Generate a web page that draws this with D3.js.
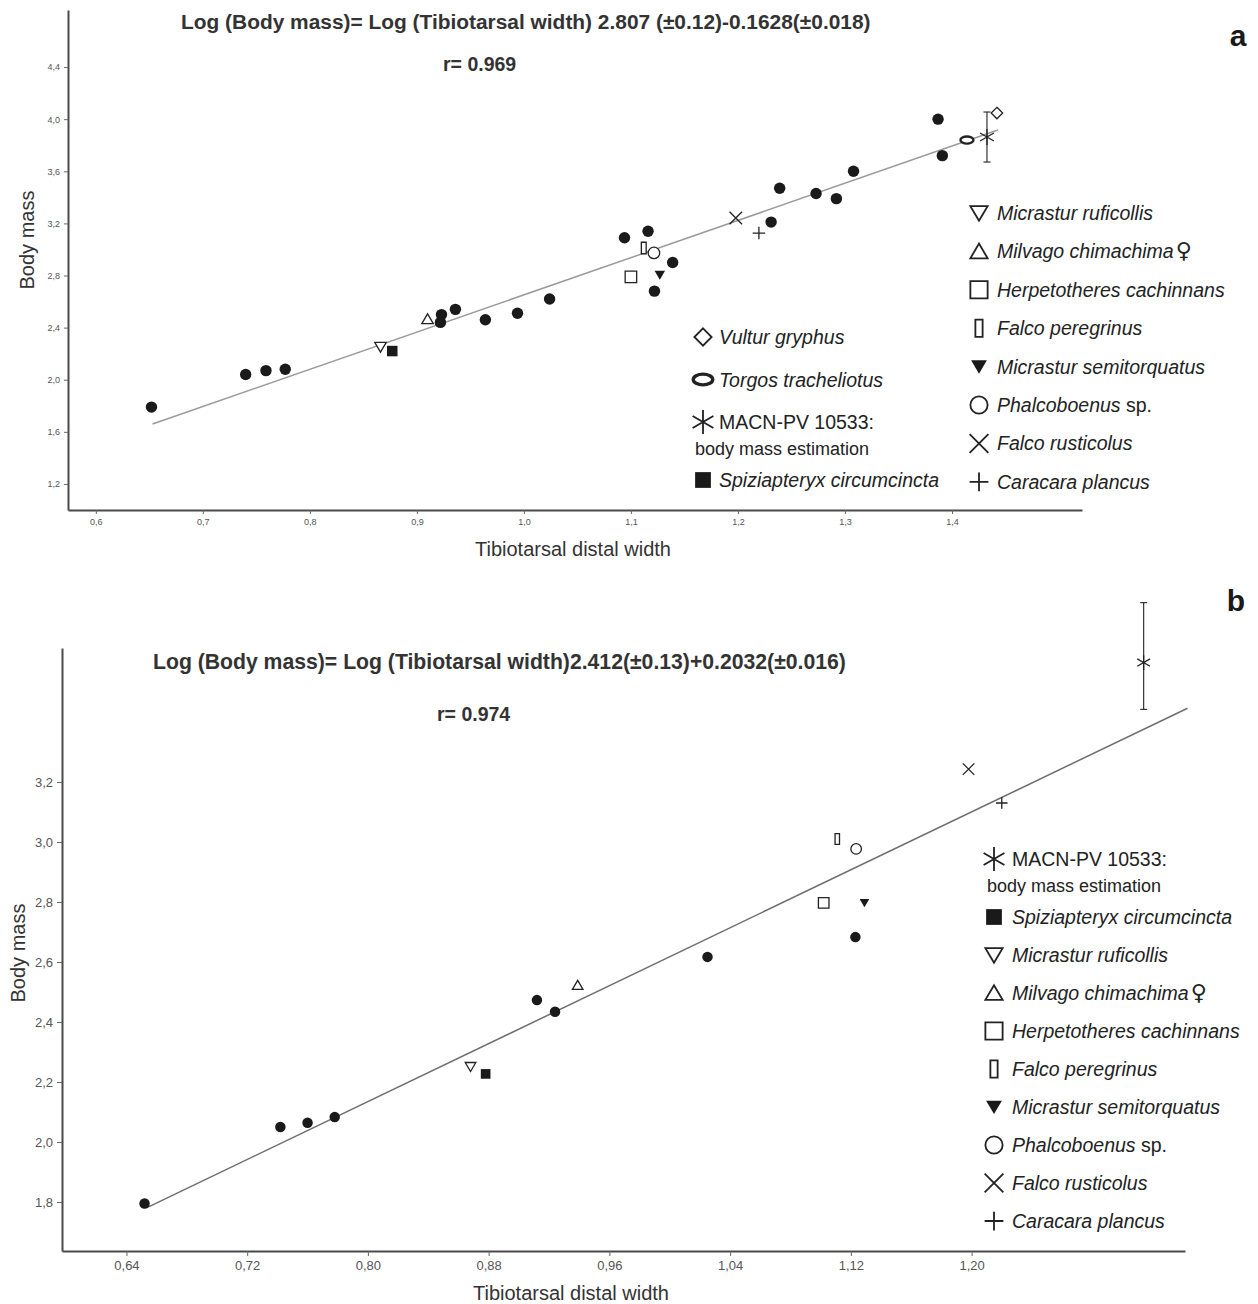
<!DOCTYPE html>
<html>
<head>
<meta charset="utf-8">
<script src="https://cdn.jsdelivr.net/npm/d3@7"></script>
<style>
  body { margin: 0; background: #fff; }
  svg text { font-family: "Liberation Sans", Arial, sans-serif; }
</style>
</head>
<body>
<svg id="chart"></svg>
<script>
// ---- panel a : all specimens ----
const aTickX = [0.6, 0.7, 0.8, 0.9, 1.0, 1.1, 1.2, 1.3, 1.4];
const aTickY = [1.2, 1.6, 2.0, 2.4, 2.8, 3.2, 3.6, 4.0, 4.4];
const aExtentX = [0.574, 1.5215];
const aExtentY = [1.0, 4.838];
const aDotsX = [0.652, 0.740, 0.759, 0.777, 0.922, 0.923, 0.936, 0.964, 0.994, 1.024, 1.094, 1.116, 1.139, 1.122, 1.231, 1.239, 1.273, 1.292, 1.308, 1.387, 1.391];
const aDotsY = [1.79, 2.04, 2.07, 2.08, 2.44, 2.50, 2.54, 2.46, 2.51, 2.62, 3.09, 3.14, 2.90, 2.68, 3.21, 3.47, 3.43, 3.39, 3.60, 4.00, 3.72];
const aTaxa = ["ruficollis", "spiziapteryx", "milvago", "herpetotheres", "peregrinus", "phalcoboenus", "semitorquatus", "rusticolus", "caracara", "torgos", "macn", "vultur"];
const aTaxaX = [0.866, 0.877, 0.910, 1.100, 1.112, 1.1215, 1.127, 1.198, 1.2196, 1.414, 1.4327, 1.442];
const aTaxaY = [2.251, 2.220, 2.466, 2.789, 3.011, 2.973, 2.804, 3.241, 3.126, 3.840, 3.863, 4.047];
const aMacnRange = [3.671, 4.055];
const aFitX = [0.653, 1.443];
const aFitY = [1.660, 3.917];
const aEquation = "Log (Body mass)= Log (Tibiotarsal width) 2.807 (\u00b10.12)-0.1628(\u00b10.018)";
const aR = "r= 0.969";
const aLegendLeft = ["vultur", "torgos", "macn", "spiziapteryx"];
const aLegendRight = ["ruficollis", "milvago", "herpetotheres", "peregrinus", "semitorquatus", "phalcoboenus", "rusticolus", "caracara"];

// ---- panel b : reduced sample ----
const bTickX = [0.64, 0.72, 0.80, 0.88, 0.96, 1.04, 1.12, 1.20];
const bTickY = [1.8, 2.0, 2.2, 2.4, 2.6, 2.8, 3.0, 3.2];
const bExtentX = [0.5973, 1.3414];
const bExtentY = [1.6367, 3.6467];
const bDotsX = [0.652, 0.742, 0.760, 0.778, 0.912, 0.924, 1.025, 1.123];
const bDotsY = [1.795, 2.050, 2.064, 2.083, 2.473, 2.434, 2.617, 2.683];
const bTaxa = ["ruficollis", "spiziapteryx", "milvago", "herpetotheres", "peregrinus", "phalcoboenus", "semitorquatus", "rusticolus", "caracara", "macn"];
const bTaxaX = [0.868, 0.878, 0.939, 1.102, 1.111, 1.1235, 1.129, 1.198, 1.220, 1.314];
const bTaxaY = [2.251, 2.227, 2.523, 2.797, 3.010, 2.977, 2.797, 3.243, 3.130, 3.598];
const bMacnRange = [3.442, 3.798];
const bFitX = [0.6543, 1.3431];
const bFitY = [1.783, 3.446];
const bEquation = "Log (Body mass)= Log (Tibiotarsal width)2.412(\u00b10.13)+0.2032(\u00b10.016)";
const bR = "r= 0.974";
const bLegend = ["macn", "spiziapteryx", "ruficollis", "milvago", "herpetotheres", "peregrinus", "semitorquatus", "phalcoboenus", "rusticolus", "caracara"];

// legend text: [text, italic]
const taxonLabel = {
  vultur: [["Vultur gryphus", true]],
  torgos: [["Torgos tracheliotus", true]],
  macn: [["MACN-PV 10533:", false]],
  spiziapteryx: [["Spiziapteryx circumcincta", true]],
  ruficollis: [["Micrastur ruficollis", true]],
  milvago: [["Milvago chimachima", true], ["\u2640", false]],
  herpetotheres: [["Herpetotheres cachinnans", true]],
  peregrinus: [["Falco peregrinus", true]],
  semitorquatus: [["Micrastur semitorquatus", true]],
  phalcoboenus: [["Phalcoboenus", true], [" sp.", false]],
  rusticolus: [["Falco rusticolus", true]],
  caracara: [["Caracara plancus", true]]
};

const symbolOf = {
  vultur: "diamond", torgos: "ellipse", macn: "asterisk", spiziapteryx: "squareFilled",
  ruficollis: "triDown", milvago: "triUp", herpetotheres: "square", peregrinus: "narrow",
  semitorquatus: "triDownFilled", phalcoboenus: "circle", rusticolus: "cross", caracara: "plus"
};

const W = 1258, H = 1304;
const ink = "#1a1a1a";

const svg = d3.select("#chart").attr("width", W).attr("height", H);
svg.append("rect").attr("width", W).attr("height", H).attr("fill", "#fff");

function symbolPath(kind, s) {
  const h = s / 2;
  const p = d3.path();
  switch (kind) {
    case "dot":
    case "circle":
      p.moveTo(h, 0); p.arc(0, 0, h, 0, 2 * Math.PI); p.closePath(); break;
    case "square":
    case "squareFilled":
      p.rect(-h, -h, s, s); break;
    case "narrow":
      p.rect(-h * 0.42, -h, s * 0.42, s); break;
    case "triDown":
    case "triDownFilled":
      p.moveTo(-h, -h * 0.8); p.lineTo(h, -h * 0.8); p.lineTo(0, h * 0.9); p.closePath(); break;
    case "triUp":
      p.moveTo(-h, h * 0.8); p.lineTo(h, h * 0.8); p.lineTo(0, -h * 0.9); p.closePath(); break;
    case "diamond":
      p.moveTo(0, -h); p.lineTo(h, 0); p.lineTo(0, h); p.lineTo(-h, 0); p.closePath(); break;
    case "ellipse":
      return `M${-h},0 a${h},${h * 0.55} 0 1,0 ${s},0 a${h},${h * 0.55} 0 1,0 ${-s},0 Z`;
    case "cross":
      p.moveTo(-h, -h); p.lineTo(h, h); p.moveTo(-h, h); p.lineTo(h, -h); break;
    case "plus":
      p.moveTo(-h, 0); p.lineTo(h, 0); p.moveTo(0, -h); p.lineTo(0, h); break;
    case "asterisk":
      p.moveTo(0, -h); p.lineTo(0, h);
      [30, 150].forEach(a => {
        const dx = h * Math.cos(a * Math.PI / 180), dy = h * Math.sin(a * Math.PI / 180);
        p.moveTo(-dx, -dy); p.lineTo(dx, dy);
      });
      break;
  }
  return p.toString();
}

function styleSymbol(sel, kind, scale) {
  const filled = kind === "dot" || kind === "squareFilled" || kind === "triDownFilled";
  const lineOnly = kind === "cross" || kind === "plus" || kind === "asterisk";
  sel.attr("fill", filled ? ink : (lineOnly ? "none" : "#fff"))
     .attr("stroke", filled ? "none" : "#222")
     .attr("stroke-width", (kind === "ellipse" ? 2.4 : 1.3) * scale);
}

const markerSize = {
  dot: 11.4, circle: 11.5, square: 11.5, squareFilled: 10.5, narrow: 11.5, triDown: 11.5, triUp: 11.5,
  triDownFilled: 10.5, diamond: 11.5, ellipse: 13, cross: 12.5, plus: 12.5, asterisk: 16
};

const commaFmt = digits => d => d.toFixed(digits).replace(".", ",");

function drawPanel(cfg) {
  const g = svg.append("g");
  const x = d3.scaleLinear().domain(cfg.extentX).range([cfg.left, cfg.right]);
  const y = d3.scaleLinear().domain(cfg.extentY).range([cfg.bottom, cfg.top]);

  const xAxis = g.append("g")
    .attr("transform", "translate(0," + cfg.bottom + ")")
    .call(d3.axisBottom(x).tickValues(cfg.tickX).tickFormat(commaFmt(cfg.xDigits))
      .tickSize(cfg.tickLen).tickSizeOuter(0).tickPadding(cfg.tickPad));
  const yAxis = g.append("g")
    .attr("transform", "translate(" + cfg.left + ",0)")
    .call(d3.axisLeft(y).tickValues(cfg.tickY).tickFormat(commaFmt(1))
      .tickSize(cfg.tickLen).tickSizeOuter(0).tickPadding(cfg.tickPad - 1));
  [xAxis, yAxis].forEach(ax => {
    ax.select(".domain").attr("stroke", "#4a4a4a").attr("stroke-width", 2);
    ax.selectAll(".tick line").attr("stroke", "#666").attr("stroke-width", 1);
    ax.selectAll(".tick text").attr("fill", "#555")
      .style("font-size", cfg.tickFont + "px")
      .style("font-family", "'Liberation Sans', Arial, sans-serif");
  });

  // axis titles
  g.append("text")
    .attr("transform", "translate(" + cfg.yTitleX + "," + cfg.yTitleY + ") rotate(-90)")
    .attr("text-anchor", "middle").attr("fill", "#333").style("font-size", "20px")
    .text("Body mass");
  g.append("text")
    .attr("x", cfg.xTitleX).attr("y", cfg.xTitleY)
    .attr("text-anchor", "middle").attr("fill", "#333").style("font-size", "20px")
    .text("Tibiotarsal distal width");

  // equation and r
  g.append("text").attr("x", cfg.eqX).attr("y", cfg.eqY)
    .attr("fill", "#333").style("font-size", cfg.eqFont + "px").style("font-weight", "bold")
    .text(cfg.equation);
  g.append("text").attr("x", cfg.rX).attr("y", cfg.rY)
    .attr("fill", "#333").style("font-size", "19.5px").style("font-weight", "bold")
    .text(cfg.r);
  g.append("text").attr("x", cfg.letterX).attr("y", cfg.letterY)
    .attr("text-anchor", "middle").attr("fill", ink)
    .style("font-size", "30px").style("font-weight", "bold")
    .text(cfg.letter);

  // regression line
  const fit = cfg.fitX.map((v, i) => [v, cfg.fitY[i]]);
  g.append("path")
    .attr("d", d3.line().x(d => x(d[0])).y(d => y(d[1]))(fit))
    .attr("fill", "none").attr("stroke", cfg.fitColor).attr("stroke-width", 1.5);

  // error bar for the fossil estimate
  const mi = cfg.taxa.indexOf("macn");
  const ex = x(cfg.taxaX[mi]);
  const eb = g.append("g").attr("stroke", "#333").attr("stroke-width", 1.2);
  eb.append("line").attr("x1", ex).attr("x2", ex)
    .attr("y1", y(cfg.macnRange[0])).attr("y2", y(cfg.macnRange[1]));
  cfg.macnRange.forEach(v => {
    eb.append("line").attr("x1", ex - 3.5).attr("x2", ex + 3.5)
      .attr("y1", y(v)).attr("y2", y(v));
  });

  // filled circles: other falconiforms
  const dots = cfg.dotsX.map((v, i) => [v, cfg.dotsY[i]]);
  g.append("g").selectAll("path").data(dots).enter().append("path")
    .attr("transform", d => "translate(" + x(d[0]) + "," + y(d[1]) + ")")
    .attr("d", symbolPath("dot", markerSize.dot * cfg.markScale))
    .call(sel => styleSymbol(sel, "dot", 1));

  // highlighted taxa
  const taxa = cfg.taxa.map((t, i) => ({ t, x: cfg.taxaX[i], y: cfg.taxaY[i] }));
  g.append("g").selectAll("path").data(taxa).enter().append("path")
    .attr("transform", d => "translate(" + x(d.x) + "," + y(d.y) + ")")
    .attr("d", d => symbolPath(symbolOf[d.t], markerSize[symbolOf[d.t]] * cfg.markScale))
    .each(function (d) { styleSymbol(d3.select(this), symbolOf[d.t], 1); });

  // legends
  cfg.legends.forEach(lg => {
    let cy = lg.y0;
    lg.items.forEach(key => {
      const kind = symbolOf[key];
      const m = g.append("path")
        .attr("transform", "translate(" + lg.mx + "," + cy + ")")
        .attr("d", symbolPath(kind, markerSize[kind] * 1.5));
      styleSymbol(m, kind, 1.4);
      const t = g.append("text").attr("x", lg.tx).attr("y", cy + 7)
        .attr("fill", "#222").style("font-size", "19.5px");
      taxonLabel[key].forEach(part => {
        const sp = t.append("tspan").style("font-style", part[1] ? "italic" : "normal").text(part[0]);
        if (part[0] === "\u2640") {
          sp.style("font-family", "'DejaVu Sans', sans-serif").style("font-size", "22px").attr("dx", 2);
        }
      });
      if (key === "macn") {
        g.append("text").attr("x", lg.tx - lg.subIndent).attr("y", cy + 33)
          .attr("fill", "#222").style("font-size", "18px").text("body mass estimation");
        cy += 58;
      } else {
        cy += lg.step;
      }
    });
  });
}

drawPanel({
  left: 68, right: 1082, top: 10, bottom: 510,
  extentX: aExtentX, extentY: aExtentY, tickX: aTickX, tickY: aTickY, xDigits: 1,
  tickLen: 4, tickPad: 5, tickFont: 9, markScale: 1,
  yTitleX: 34, yTitleY: 240, xTitleX: 573, xTitleY: 556,
  eqX: 181, eqY: 29, eqFont: 20.9, rX: 443, rY: 71, equation: aEquation, r: aR,
  letter: "a", letterX: 1238, letterY: 46,
  fitX: aFitX, fitY: aFitY, fitColor: "#9a9a9a",
  dotsX: aDotsX, dotsY: aDotsY, taxa: aTaxa, taxaX: aTaxaX, taxaY: aTaxaY, macnRange: aMacnRange,
  legends: [
    { items: aLegendLeft, mx: 703, tx: 719, y0: 337, step: 42.5, subIndent: 24 },
    { items: aLegendRight, mx: 979, tx: 997, y0: 213, step: 38.4, subIndent: 0 }
  ]
});

drawPanel({
  left: 62, right: 1185, top: 648, bottom: 1251,
  extentX: bExtentX, extentY: bExtentY, tickX: bTickX, tickY: bTickY, xDigits: 2,
  tickLen: 5, tickPad: 5, tickFont: 13, markScale: 0.92,
  yTitleX: 25, yTitleY: 953, xTitleX: 571, xTitleY: 1300,
  eqX: 153, eqY: 669, eqFont: 21.2, rX: 437, rY: 721, equation: bEquation, r: bR,
  letter: "b", letterX: 1236, letterY: 611,
  fitX: bFitX, fitY: bFitY, fitColor: "#6e6e6e",
  dotsX: bDotsX, dotsY: bDotsY, taxa: bTaxa, taxaX: bTaxaX, taxaY: bTaxaY, macnRange: bMacnRange,
  legends: [
    { items: bLegend, mx: 994, tx: 1012, y0: 859, step: 38, subIndent: 25 }
  ]
});
</script>
</body>
</html>
